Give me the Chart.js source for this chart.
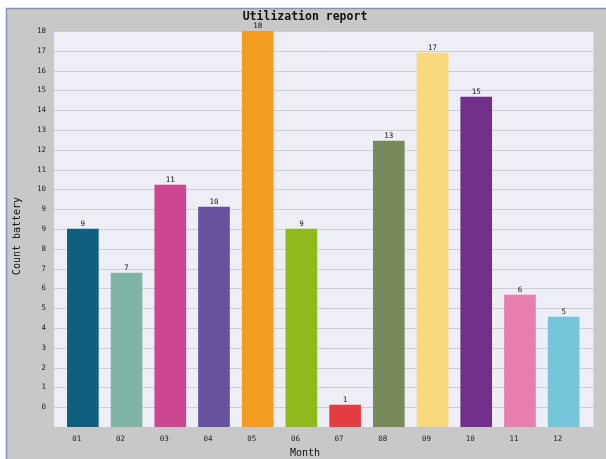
<!DOCTYPE html>
<html><head><meta charset="utf-8">
<script src="https://cdn.jsdelivr.net/npm/chart.js@4.4.1/dist/chart.umd.min.js"></script>
<style>html,body{margin:0;padding:0;background:#fff}canvas{display:block}</style>
</head><body>
<canvas id="c" width="606" height="459"></canvas>
<script>
const months = ['01','02','03','04','05','06','07','08','09','10','11','12'];
const counts = [9, 7, 11, 10, 18, 9, 1, 13, 17, 15, 6, 5];
const valueLabels = ['9','7','11','10','18','9','1','13','17','15','6','5'];
const barColors = ['#0f5f7f','#7eb3a6','#cc4690','#66529d','#f49c1f','#8ebb1b','#e33d40','#798a5a','#f8d97d','#72308c','#e67fae','#75c6da'];
const yTickLabels = ['','0','1','2','3','4','5','6','7','8','9','9','10','11','12','13','14','15','16','17','18'];
const yMax = 18;
const chartTitle = 'Utilization report';
const xTitle = 'Month';
const yTitle = 'Count battery';

const MONO = '"DejaVu Sans Mono", monospace';

const decor = {
  id: 'decor',
  beforeDraw(chart) {
    const ctx = chart.ctx, a = chart.chartArea;
    ctx.save();
    ctx.fillStyle = '#ffffff';
    ctx.fillRect(0, 0, chart.width, chart.height);
    ctx.fillStyle = '#c8c8c8';
    ctx.fillRect(6, 8, chart.width - 6, chart.height - 8);
    ctx.strokeStyle = '#8292bb';
    ctx.lineWidth = 1.5;
    ctx.beginPath();
    ctx.moveTo(6.5, chart.height); ctx.lineTo(6.5, 8.5); ctx.lineTo(chart.width, 8.5);
    ctx.stroke();
    // plot background
    const L = a.left - 7, R = a.right + 8;
    ctx.fillStyle = '#eeeef6';
    ctx.fillRect(L, a.top, R - L, a.bottom - a.top);
    // grid lines
    const ys = chart.scales.y;
    ctx.strokeStyle = '#cdcdd9';
    ctx.lineWidth = 1;
    ys.ticks.forEach((t, i) => {
      if (i === 0) return;
      const py = Math.round(ys.getPixelForValue(t.value)) + 0.5;
      ctx.beginPath(); ctx.moveTo(L, py); ctx.lineTo(R, py); ctx.stroke();
    });
    // texts
    ctx.fillStyle = '#111';
    ctx.textAlign = 'center';
    ctx.textBaseline = 'middle';
    ctx.font = 'bold 11.5px ' + MONO;
    ctx.fillText(chartTitle, 305, 17);
    ctx.font = '10px ' + MONO;
    ctx.fillText(xTitle, 305, 453);
    ctx.save();
    ctx.translate(17, 236);
    ctx.rotate(-Math.PI / 2);
    ctx.fillText(yTitle, 0, 0);
    ctx.restore();
    ctx.restore();
  },
  afterDatasetsDraw(chart) {
    const ctx = chart.ctx;
    const meta = chart.getDatasetMeta(0);
    ctx.save();
    ctx.fillStyle = '#111';
    ctx.font = '7.5px ' + MONO;
    ctx.textAlign = 'center';
    ctx.textBaseline = 'bottom';
    meta.data.forEach((bar, i) => {
      ctx.fillText(valueLabels[i], bar.x, bar.y - 1);
    });
    ctx.restore();
  }
};

new Chart(document.getElementById('c'), {
  type: 'bar',
  data: {
    labels: months,
    datasets: [{
      data: counts,
      backgroundColor: barColors,
      borderWidth: 0,
      barThickness: 31
    }]
  },
  options: {
    responsive: false,
    devicePixelRatio: 1,
    animation: false,
    layout: { padding: { top: 31, right: 20.5, bottom: 0, left: 0 } },
    plugins: { legend: { display: false }, title: { display: false }, tooltip: { enabled: false } },
    scales: {
      x: {
        grid: { display: false, drawTicks: false },
        border: { display: false },
        ticks: { font: { family: MONO, size: 7.5 }, color: '#222', padding: 8, labelOffset: -6, maxRotation: 0 },
        afterFit(s) { s.height = 32; }
      },
      y: {
        min: 0, max: yMax,
        grid: { display: false, drawTicks: false },
        border: { display: false },
        afterBuildTicks(s) {
          s.ticks = yTickLabels.map((l, i) => ({ value: i * yMax / (yTickLabels.length - 1) }));
        },
        ticks: {
          font: { family: MONO, size: 7.5 }, color: '#222', padding: 15,
          callback: (v, i) => yTickLabels[i]
        },
        afterFit(s) { s.width = 61; }
      }
    }
  },
  plugins: [decor]
});
</script>
</body></html>
